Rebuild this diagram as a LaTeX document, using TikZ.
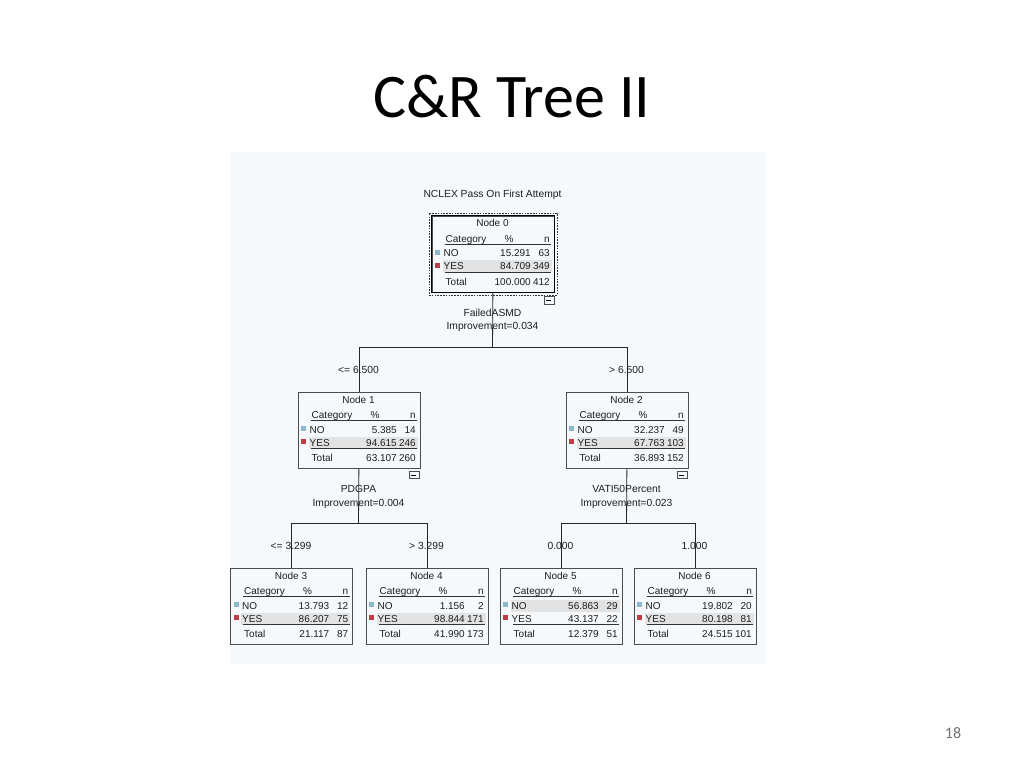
\documentclass[tikz,border=0pt]{standalone}
\usepackage{fontspec}
\setmainfont{Liberation Sans}
\newfontfamily\titlefont{Carlito}
\usetikzlibrary{fit}
\definecolor{panel}{HTML}{F5F9FC}
\definecolor{hlgrey}{HTML}{E3E3E3}
\definecolor{nocol}{HTML}{8CB8CE}
\definecolor{yescol}{HTML}{BE3C46}
\definecolor{inkc}{HTML}{1E1E1E}
\tikzset{
  cell/.style={font=\fontsize{10}{12}\selectfont, inner sep=0pt, text height=7.2pt, text depth=0pt, text=inkc},
  lbl/.style={font=\fontsize{10.3}{12}\selectfont, inner sep=0pt, text height=7.4pt, text depth=0pt, text=inkc},
  nodebox/.style={draw=black!70, line width=0.8pt, minimum width=122pt, minimum height=76pt, inner sep=0pt},
  rulel/.style={draw=black!80, line width=0.8pt},
  edge/.style={draw=black!85, line width=0.8pt},
  minbox/.style={draw=black!70, line width=0.7pt, minimum width=10pt, minimum height=7.5pt, inner sep=0pt},
}
\def\hlY{44.5}
\newcommand\spssnode[9]{%
  \begin{scope}[shift={#2}]
    \fill[hlgrey] (11,\hlY) rectangle (120,\hlY+12);
    \node[nodebox, anchor=north west] (#1) at (0,0) {};
    \node[cell] (#1-title) at (61,7.5) {Node #3};
    \node[cell, anchor=west] (#1-h1) at (14,23) {Category};
    \node[cell] (#1-h2) at (77.5,23) {\%};
    \node[cell, anchor=east] (#1-h3) at (118.5,23) {n};
    \draw[rulel] (13,28.5) -- (119.5,28.5);
    \fill[nocol] (3.5,34) rectangle (8.5,39);
    \node[cell, anchor=west] (#1-a1) at (12,37.5) {NO};
    \node[cell, anchor=east] (#1-a2) at (99.5,37.5) {#4};
    \node[cell, anchor=east] (#1-a3) at (118.5,37.5) {#5};
    \fill[yescol] (3.5,47) rectangle (8.5,52);
    \node[cell, anchor=west] (#1-b1) at (12,50.5) {YES};
    \node[cell, anchor=east] (#1-b2) at (99.5,50.5) {#6};
    \node[cell, anchor=east] (#1-b3) at (118.5,50.5) {#7};
    \draw[rulel] (13,56.7) -- (119.5,56.7);
    \node[cell, anchor=west] (#1-c1) at (14,66) {Total};
    \node[cell, anchor=east] (#1-c2) at (99.5,66) {#8};
    \node[cell, anchor=east] (#1-c3) at (118.5,66) {#9};
  \end{scope}}
\begin{document}
\begin{tikzpicture}[x=1pt,y=-1pt]
  \useasboundingbox (0,0) rectangle (1024,768);
  \fill[white] (0,0) rectangle (1024,768);
  \fill[panel] (231,152) rectangle (766,664);

  \node[font=\titlefont\fontsize{62}{70}\selectfont, anchor=base, text=black] (title) at (512,117) {C\&R Tree II};
  \node[font=\titlefont\fontsize{16}{18}\selectfont, anchor=base, text=black!55] (pg) at (953,738) {18};

  \node[lbl] (target) at (492.5,193.5) {NCLEX Pass On First Attempt};

  % tree nodes
  \spssnode{n0}{(431.5,215.5)}{0}{15.291}{63}{84.709}{349}{100.000}{412}
  \spssnode{n1}{(297.5,392)}{1}{5.385}{14}{94.615}{246}{63.107}{260}
  \spssnode{n2}{(565.5,392)}{2}{32.237}{49}{67.763}{103}{36.893}{152}
  \spssnode{n3}{(230,568)}{3}{13.793}{12}{86.207}{75}{21.117}{87}
  \spssnode{n4}{(365.5,568)}{4}{1.156}{2}{98.844}{171}{41.990}{173}
  \def\hlY{31.5}
  \spssnode{n5}{(499.5,568)}{5}{56.863}{29}{43.137}{22}{12.379}{51}
  \def\hlY{44.5}
  \spssnode{n6}{(633.5,568)}{6}{19.802}{20}{80.198}{81}{24.515}{101}

  % selected root node
  \draw[black, line width=1.6pt] (n0.north west) rectangle (n0.south east);
  \node[draw=black!80, line width=0.8pt, dash pattern=on 1.6pt off 1.2pt, fit=(n0), inner sep=2.6pt] (n0sel) {};

  % collapse boxes
  \node[minbox, anchor=north east] (n0m) at ([shift={(0,3.8)}]n0.south east) {\rule{5pt}{0.6pt}};
  \node[minbox, anchor=north east] (n1m) at ([shift={(-1,2)}]n1.south east) {\rule{5pt}{0.6pt}};
  \node[minbox, anchor=north east] (n2m) at ([shift={(-1,2)}]n2.south east) {\rule{5pt}{0.6pt}};

  % split coordinates
  \coordinate (b0) at (492.5,347.5);
  \coordinate (b1) at (358.5,523.5);
  \coordinate (b2) at (626.5,523.5);

  \draw[edge] (n0.south) -- (b0);
  \draw[edge] (n1.north) |- (b0) -| (n2.north);
  \draw[edge] (n1.south) -- (b1);
  \draw[edge] (n3.north) |- (b1) -| (n4.north);
  \draw[edge] (n2.south) -- (b2);
  \draw[edge] (n5.north) |- (b2) -| (n6.north);

  % split labels
  \node[lbl] (s0a) at (492.5,312.5) {FailedASMD};
  \node[lbl] (s0b) at (492.5,326) {Improvement=0.034};
  \node[lbl] (s1a) at (358.5,489) {PDGPA};
  \node[lbl] (s1b) at (358.5,502.5) {Improvement=0.004};
  \node[lbl] (s2a) at (626.5,489) {VATI50Percent};
  \node[lbl] (s2b) at (626.5,502.5) {Improvement=0.023};

  % branch labels
  \node[lbl] (e1) at (358.5,370) {<= 6.500};
  \node[lbl] (e2) at (626.5,370) {> 6.500};
  \node[lbl] (e3) at (291,546) {<= 3.299};
  \node[lbl] (e4) at (426.5,546) {> 3.299};
  \node[lbl] (e5) at (560.5,546) {0.000};
  \node[lbl] (e6) at (694.5,546) {1.000};
\end{tikzpicture}
\end{document}
